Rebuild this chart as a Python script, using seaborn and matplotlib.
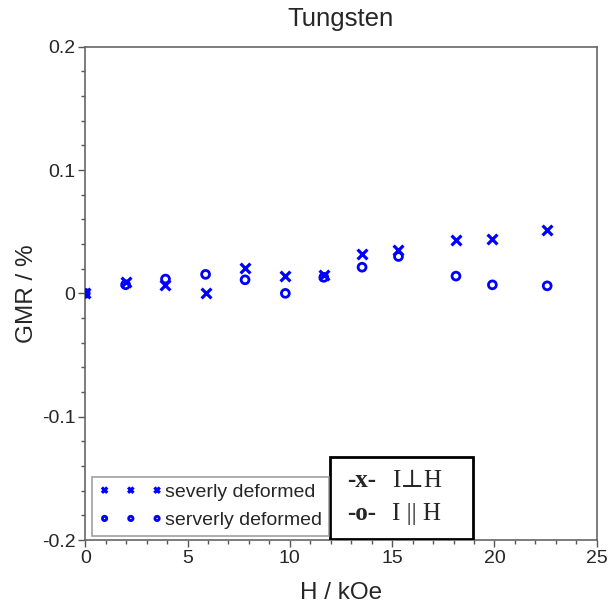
import matplotlib
matplotlib.use("Agg")
import matplotlib.pyplot as plt
import seaborn as sns
import pandas as pd
from matplotlib.patches import Rectangle
from matplotlib.ticker import MultipleLocator, AutoMinorLocator

H = [0.0, 1.97, 3.92, 5.88, 7.81, 9.78, 11.66, 13.53, 15.31, 18.12, 19.9, 22.58]
gmr_perp = [0.0, 0.009, 0.0066, 0.0005, 0.0206, 0.0138, 0.0152, 0.0318, 0.0354, 0.043, 0.0444, 0.051]
gmr_par = [0.0, 0.007, 0.0116, 0.0154, 0.011, 0.0, 0.013, 0.0212, 0.0299, 0.014, 0.0069, 0.0061]
labels = ["severly deformed", "serverly deformed"]
yticks = [-0.2, -0.1, 0, 0.1, 0.2]
yticklabels = ["-0.2", "-0.1", "0", "0.1", "0.2"]

sns.set_style("white")
plt.rcParams['font.family'] = ['Liberation Sans', 'DejaVu Sans']

fig = plt.figure(figsize=(6.11, 6.06), dpi=100)
ax = fig.add_axes([0.1396, 0.1089, 0.8370, 0.8140])

df_perp = pd.DataFrame({"H": H, "GMR": gmr_perp})
df_par = pd.DataFrame({"H": H, "GMR": gmr_par})

sns.scatterplot(data=df_perp, x="H", y="GMR", marker="x", color="#0000ff",
                s=50, linewidth=2.3, ax=ax, label=labels[0], zorder=3)
sns.scatterplot(data=df_par, x="H", y="GMR", marker="o", facecolors="none",
                edgecolor="#0000ff", s=32, linewidth=2.0, ax=ax, label=labels[1], zorder=3)

ax.set_xlim(0, 25)
ax.set_ylim(-0.2, 0.2)
ax.xaxis.set_major_locator(MultipleLocator(5))
ax.xaxis.set_minor_locator(AutoMinorLocator(5))
ax.set_yticks(yticks)
ax.set_yticklabels(yticklabels)
ax.yaxis.set_minor_locator(AutoMinorLocator(5))
ax.tick_params(which="major", direction="out", length=5, width=1, color="#555555",
               labelsize=14, left=True, bottom=True, pad=2)
ax.tick_params(which="minor", direction="out", length=3, width=1, color="#555555",
               left=True, bottom=True)
for sp in ax.spines.values():
    sp.set_color("#666666")
    sp.set_linewidth(1.2)

ax.set_xlabel("H / kOe", fontsize=17.5, labelpad=11)
ax.set_ylabel("GMR / %", fontsize=17.5, labelpad=3)
ax.set_title("Tungsten", fontsize=18.5, pad=15)

leg = ax.legend(loc="lower left", bbox_to_anchor=(0.013, 0.008), scatterpoints=3,
                scatteryoffsets=[0.5], fontsize=14, frameon=True, fancybox=False,
                edgecolor="#888888", markerscale=0.55, handletextpad=0.1,
                borderpad=0.35, labelspacing=0.55, handlelength=3.3, borderaxespad=0)
leg.get_frame().set_linewidth(1.2)

ax.add_patch(Rectangle((0.479, 0.002), 0.279, 0.166, transform=ax.transAxes,
                       fill=False, edgecolor="black", linewidth=2, zorder=5))
serif = ['Liberation Serif', 'DejaVu Serif']
ax.text(0.512, 0.120, "-x-", transform=ax.transAxes, fontsize=18, fontweight="bold",
        family=serif, va="center", ha="left")
ax.text(0.600, 0.120, "I\u22a5H", transform=ax.transAxes, fontsize=18,
        family=serif, va="center", ha="left")
ax.text(0.512, 0.053, "-o-", transform=ax.transAxes, fontsize=18, fontweight="bold",
        family=serif, va="center", ha="left")
ax.text(0.600, 0.053, "I || H", transform=ax.transAxes, fontsize=18,
        family=serif, va="center", ha="left")

fig.savefig("out.png", dpi=100)
